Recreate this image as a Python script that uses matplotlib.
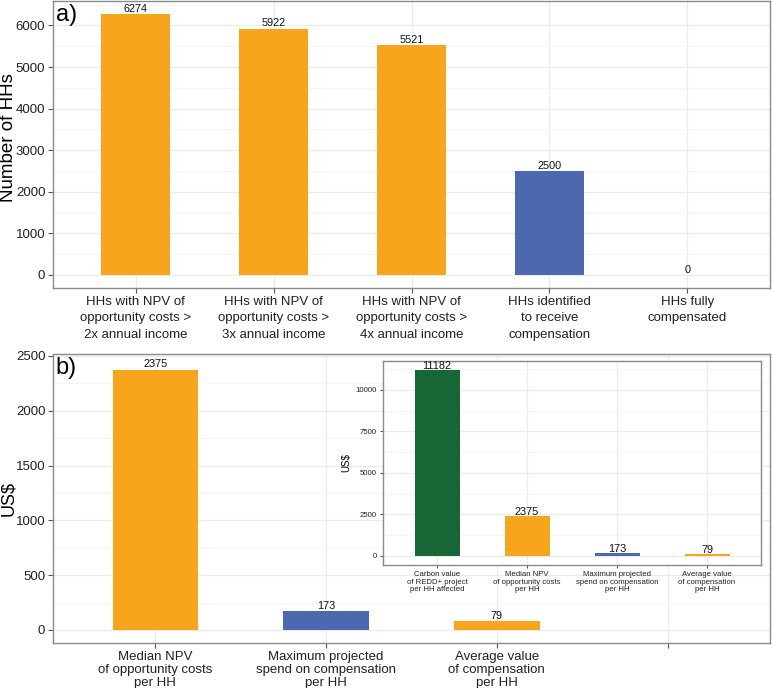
import matplotlib
matplotlib.use("Agg")
import matplotlib.pyplot as plt
from matplotlib.ticker import MultipleLocator

plt.rcParams['font.family'] = ['Liberation Sans', 'DejaVu Sans']

# ---------------- data ----------------
a_categories = ["HHs with NPV of\nopportunity costs >\n2x annual income",
                "HHs with NPV of\nopportunity costs >\n3x annual income",
                "HHs with NPV of\nopportunity costs >\n4x annual income",
                "HHs identified\nto receive\ncompensation",
                "HHs fully\ncompensated"]
a_values = [6274, 5922, 5521, 2500, 0]
a_groups = ["opp", "opp", "opp", "spend", "opp"]

b_categories = ["Median NPV\nof opportunity costs\nper HH",
                "Maximum projected\nspend on compensation\nper HH",
                "Average value\nof compensation\nper HH",
                ""]
b_values = [2375, 173, 79, None]
b_groups = ["opp", "spend", "opp", None]

inset_categories = ["Carbon value\nof REDD+ project\nper HH affected",
                    "Median NPV\nof opportunity costs\nper HH",
                    "Maximum projected\nspend on compensation\nper HH",
                    "Average value\nof compensation\nper HH"]
inset_values = [11182, 2375, 173, 79]
inset_groups = ["carbon", "opp", "spend", "opp"]

colors = {"opp": "#F8A51E", "spend": "#4B68B1", "carbon": "#176635"}

W, H = 772, 688
fig = plt.figure(figsize=(W / 100, H / 100), dpi=100)


def px_axes(left, top, right, bottom):
    return fig.add_axes([left / W, 1 - bottom / H, (right - left) / W, (bottom - top) / H])


def style(ax, tick_fs, tick_len=3.5):
    ax.set_facecolor("white")
    for s in ax.spines.values():
        s.set_color("#8a8a8a")
        s.set_linewidth(1.0)
    ax.grid(True, which="major", color="#EBEBEB", linewidth=0.9, zorder=0)
    ax.grid(True, which="minor", axis="y", color="#F4F4F4", linewidth=0.6, zorder=0)
    ax.set_axisbelow(True)
    ax.tick_params(axis="both", which="major", length=tick_len, width=0.8,
                   color="#555555", labelsize=tick_fs, labelcolor="#222222", pad=2)
    ax.tick_params(axis="both", which="minor", length=0)


def draw_bars(ax, values, groups, label_fs, label_pad):
    xs = list(range(len(values)))
    for x, v, g in zip(xs, values, groups):
        if v is None:
            continue
        ax.bar(x, v, width=0.5, color=colors[g], zorder=2)
        ax.annotate(f"{v}", (x, v), xytext=(0, label_pad), textcoords="offset points",
                    ha="center", va="bottom", fontsize=label_fs, color="#111111", zorder=3)


# ---------------- panel a ----------------
axa = px_axes(53, 1, 770, 288)
draw_bars(axa, a_values, a_groups, 7.8, 0.2)
axa.set_xlim(-0.6, len(a_values) - 0.4)
ya_max = max(a_values)
axa.set_ylim(-0.05 * ya_max, 1.05 * ya_max)
axa.yaxis.set_major_locator(MultipleLocator(1000))
axa.yaxis.set_minor_locator(MultipleLocator(500))
axa.set_xticks(range(len(a_categories)))
axa.set_xticklabels(a_categories, linespacing=1.5)
style(axa, 9.5)
fig.text(9 / W, 1 - 138 / H, "Number of HHs", rotation=90, fontsize=13.5,
         ha="center", va="center")
axa.text(0.004, 0.99, "a)", transform=axa.transAxes, fontsize=17, ha="left", va="top")

# ---------------- panel b ----------------
axb = px_axes(53, 354, 770, 643)
draw_bars(axb, b_values, b_groups, 7.8, 0.2)
axb.set_xlim(-0.6, len(b_categories) - 0.4)
axb.set_ylim(-119, 2518)
axb.yaxis.set_major_locator(MultipleLocator(500))
axb.yaxis.set_minor_locator(MultipleLocator(250))
axb.set_xticks(range(len(b_categories)))
axb.set_xticklabels(b_categories, linespacing=1.15)
style(axb, 9.5)
fig.text(9 / W, 1 - 498 / H, "US$", rotation=90, fontsize=13,
         ha="center", va="center")
axb.text(0.004, 0.99, "b)", transform=axb.transAxes, fontsize=17, ha="left", va="top")

# ---------------- inset ----------------
axi = px_axes(383, 361, 761, 565)
draw_bars(axi, inset_values, inset_groups, 7.8, -0.5)
axi.set_xlim(-0.6, len(inset_values) - 0.4)
yi_max = max(inset_values)
axi.set_ylim(-0.05 * yi_max, 1.05 * yi_max)
axi.yaxis.set_major_locator(MultipleLocator(2500))
axi.yaxis.set_minor_locator(MultipleLocator(1250))
axi.set_xticks(range(len(inset_categories)))
axi.set_xticklabels(inset_categories, linespacing=1.05)
style(axi, 5.6, tick_len=2.5)
axi.set_ylabel("US$", fontsize=7, labelpad=3)

fig.savefig("out.png", dpi=100)
